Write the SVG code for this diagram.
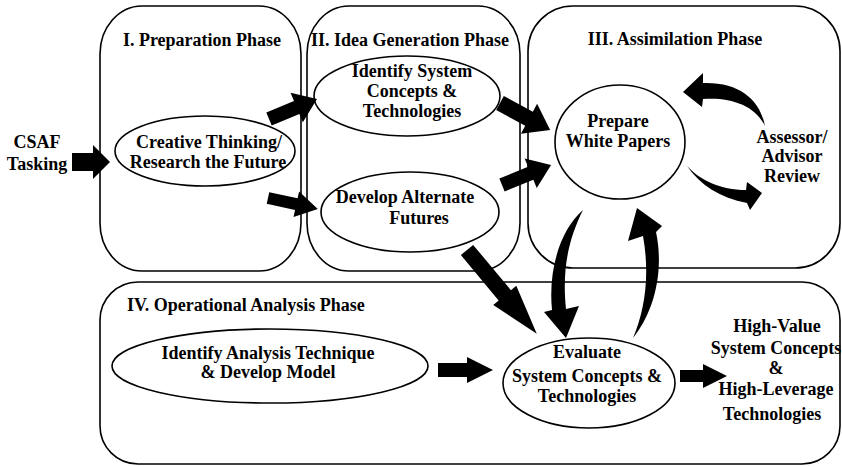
<svg xmlns="http://www.w3.org/2000/svg" width="842" height="467" viewBox="0 0 842 467">
<style>
.panel{fill:none;stroke:#000;stroke-width:1.6}
.node{fill:#fff;stroke:#000;stroke-width:1.6}
.t{font-family:"Liberation Serif","Times New Roman",serif;font-weight:bold;font-size:18px;fill:#000;text-anchor:middle}
.tl{text-anchor:start}
.arr{fill:#000;stroke:none}
</style>
<rect width="842" height="467" fill="#fff"/>
<g id="phase1">
<rect class="panel" x="100" y="6" width="201" height="265" rx="42" ry="48"/>
<text class="t" x="202" y="46">I. Preparation Phase</text>
</g>
<g id="phase2">
<rect class="panel" x="307" y="6" width="213" height="265" rx="42" ry="48"/>
<text class="t" x="410" y="46">II. Idea Generation Phase</text>
</g>
<g id="phase3">
<rect class="panel" x="528" y="6" width="312" height="262" rx="45" ry="45"/>
<text class="t" x="675" y="45">III. Assimilation Phase</text>
</g>
<g id="phase4">
<rect class="panel" x="100" y="282" width="740" height="182" rx="38" ry="38"/>
<text class="t tl" x="127" y="311">IV. Operational Analysis Phase</text>
</g>
<g id="csaf">
<text class="t" x="37" y="148">CSAF</text>
<text class="t" x="37" y="170">Tasking</text>
</g>
<g id="creative">
<ellipse class="node" cx="205" cy="151" rx="90" ry="35"/>
<text class="t" x="209" y="148">Creative Thinking/</text>
<text class="t" x="208" y="168">Research the Future</text>
</g>
<g id="identify-system">
<ellipse class="node" cx="407" cy="96" rx="93" ry="40"/>
<text class="t" x="412" y="77">Identify System</text>
<text class="t" x="412" y="97">Concepts &amp;</text>
<text class="t" x="412" y="117">Technologies</text>
</g>
<g id="develop-futures">
<ellipse class="node" cx="410" cy="212" rx="89" ry="40"/>
<text class="t" x="405" y="203">Develop Alternate</text>
<text class="t" x="419" y="224">Futures</text>
</g>
<g id="prepare">
<ellipse class="node" cx="620" cy="142" rx="65" ry="57"/>
<text class="t" x="618" y="127">Prepare</text>
<text class="t" x="618" y="147">White Papers</text>
</g>
<g id="assessor">
<text class="t" x="792" y="143">Assessor/</text>
<text class="t" x="792" y="162">Advisor</text>
<text class="t" x="792" y="182">Review</text>
</g>
<g id="identify-analysis">
<ellipse class="node" cx="270" cy="366" rx="158" ry="37"/>
<text class="t" x="268" y="359">Identify Analysis Technique</text>
<text class="t" x="268" y="378">&amp; Develop Model</text>
</g>
<g id="evaluate">
<ellipse class="node" cx="589" cy="383" rx="86" ry="45"/>
<text class="t" x="587" y="358">Evaluate</text>
<text class="t" x="587" y="382">System Concepts &amp;</text>
<text class="t" x="587" y="402">Technologies</text>
</g>
<g id="output">
<text class="t" x="777" y="332">High-Value</text>
<text class="t" x="776" y="354">System Concepts</text>
<text class="t" x="776" y="374">&amp;</text>
<text class="t" x="776" y="395">High-Leverage</text>
<text class="t" x="772" y="420">Technologies</text>
</g>
<g id="connectors">
<polygon class="arr" transform="translate(72,162)" points="0,-9 21,-9 21,-17 38,0 21,17 21,9 0,9"/>
<polygon class="arr" transform="translate(269,119) rotate(-22.6)" points="0,-7 30,-7 30,-16 52,0 30,16 30,7 0,7"/>
<polygon class="arr" transform="translate(268,198) rotate(12.4)" points="0,-6 29,-6 29,-13 51,0 29,13 29,6 0,6"/>
<polygon class="arr" transform="translate(500,103) rotate(28.4)" points="0,-8 33,-8 33,-17 57,0 33,17 33,8 0,8"/>
<polygon class="arr" transform="translate(502,185) rotate(-22.2)" points="0,-7 31,-7 31,-16 53,0 31,16 31,7 0,7"/>
<polygon class="arr" transform="translate(467,250) rotate(50.2)" points="0,-8 59,-8 59,-15 109,0 59,15 59,8 0,8"/>
<polygon class="arr" transform="translate(438,370)" points="0,-7 29,-7 29,-13 55,0 29,13 29,7 0,7"/>
<polygon class="arr" transform="translate(680,376)" points="0,-6 23,-6 23,-12 47,0 23,12 23,6 0,6"/>
<path class="arr" d="M765,126 C760,100 740,82 703,83 L703,73 L683,92 L702,107 L703,99 C730,97 755,105 765,126 Z"/>
<path class="arr" d="M687,166 C700,185 720,198 747,203 L750,210 L762,193 L747,182 L746,190 C720,190 700,180 687,166 Z"/>
<path class="arr" d="M583,210 C560,230 548,270 552,310 L544,312 L566,338 L579,306 L566,309 C562,270 568,240 583,210 Z"/>
<path class="arr" d="M633,338 C652,315 665,275 656,232 L662,226 L637,208 L628,241 L643,236 C650,275 645,310 633,338 Z"/>
</g>
</svg>
